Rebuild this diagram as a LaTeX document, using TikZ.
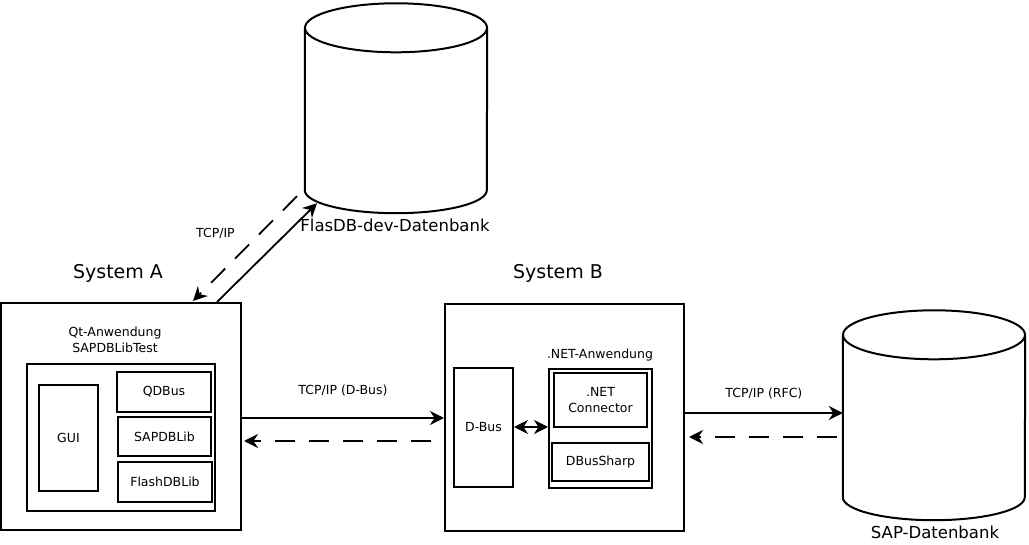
\documentclass[tikz,border=0pt]{standalone}
\usepackage{fontspec}
\setmainfont{DejaVu Sans}
\usetikzlibrary{arrows.meta,calc}

\begin{document}
\begin{tikzpicture}[
      x=1pt,y=1pt,
      font=\fontsize{12.5}{15.5}\selectfont,
      >={Stealth[length=14pt,width=14pt,inset=4.5pt]},
      box/.style={draw,line width=2pt,inner sep=0pt},
      database/.style={minimum width=182pt,minimum height=210pt,inner sep=0pt},
      dbline/.style={line width=2pt},
      title/.style={font=\fontsize{19}{22}\selectfont},
      dbname/.style={font=\fontsize{16.5}{19}\selectfont},
      link/.style={line width=1.8pt,->},
      back/.style={link,dash pattern=on 20pt off 14pt},
      ]
    \useasboundingbox (0,0) rectangle (1029,544);

    % Position the nodes
    \node[box,minimum width=240pt,minimum height=227pt] (sysA) at (121,127.5) {};
    \node[title] (sysAname) at (118,271) {System A};
    \node[align=center] (qtname) at (115,204) {Qt-Anwendung\\SAPDBLibTest};
    \node[box,minimum width=188pt,minimum height=147pt] (qtapp) at (121,106.5) {};
    \node[box,minimum width=59pt,minimum height=106pt] (gui) at (68.5,106) {GUI};
    \node[box,minimum width=94pt,minimum height=40pt] (qdbus) at (164,152) {QDBus};
    \node[box,minimum width=93pt,minimum height=39pt] (sapdblib) at (164.5,107.5) {SAPDBLib};
    \node[box,minimum width=94pt,minimum height=40pt] (flashdblib) at (165,62) {FlashDBLib};

    \node[box,minimum width=239pt,minimum height=227pt] (sysB) at (564.5,126.5) {};
    \node[title] (sysBname) at (558,271) {System B};
    \node[box,minimum width=59pt,minimum height=119pt] (dbus) at (483.5,116.5) {D-Bus};
    \node (netname) at (600,189) {.NET-Anwendung};
    \node[box,minimum width=103pt,minimum height=119pt] (netapp) at (600.5,115.5) {};
    \node[box,minimum width=93pt,minimum height=54pt,align=center] (netconn) at (600.5,144) {.NET\\Connector};
    \node[box,minimum width=97pt,minimum height=38pt] (dbussharp) at (600.5,82) {DBusSharp};

    \node[database] (flasdb) at (396,436) {};
    \node[dbname] (flasdbname) at (395,319) {FlasDB-dev-Datenbank};
    \node[database] (sap) at (934,129) {};
    \node[dbname] (sapname) at (935,12) {SAP-Datenbank};

    % The cylinders round the database nodes
    \draw[dbline] ($(flasdb.north)+(0,-25)$) ellipse[x radius=91,y radius=24.5];
    \draw[dbline] ($(flasdb.north west)+(0,-25)$) -- ($(flasdb.south west)+(0,23)$)
      arc[start angle=180,end angle=360,x radius=91,y radius=23] -- ($(flasdb.north east)+(0,-25)$);
    \draw[dbline] ($(sap.north)+(0,-25)$) ellipse[x radius=91,y radius=24.5];
    \draw[dbline] ($(sap.north west)+(0,-25)$) -- ($(sap.south west)+(0,23)$)
      arc[start angle=180,end angle=360,x radius=91,y radius=23] -- ($(sap.north east)+(0,-25)$);

    % Draw the arrows and labels
    \path [link] ($(sysB.west -| sysA.east)+(0,-0.5)$) edge node[midway,above=18pt] {TCP/IP (D-Bus)} ($(sysB.west)+(0,-0.5)$);
    \path [back] ($(sysB.west)+(-13,-23.5)$) edge ($(sysA.east)+(2,-24.5)$);

    \path [link] ($(sysB.east |- sap.west)+(0,2)$) edge node[midway,above=10pt] {TCP/IP (RFC)} ($(sap.west)+(0,2)$);
    \path [back] ($(sap.west)+(-6,-22)$) edge ($(sysB.east)+(4,-19.5)$);

    \path [link] ($(sysA.north)+(96,0)$) edge ($(flasdb.south)+(-79,10)$);
    \path [back] ($(flasdb.south)+(-99,17)$) edge node[midway,above left=6pt] {TCP/IP} ($(sysA.north)+(72,1)$);

    \path [link,<->] ($(dbus.east)+(0,0.5)$) edge ($(dbus.east -| netapp.west)+(0,0.5)$);

  \end{tikzpicture}
\end{document}
